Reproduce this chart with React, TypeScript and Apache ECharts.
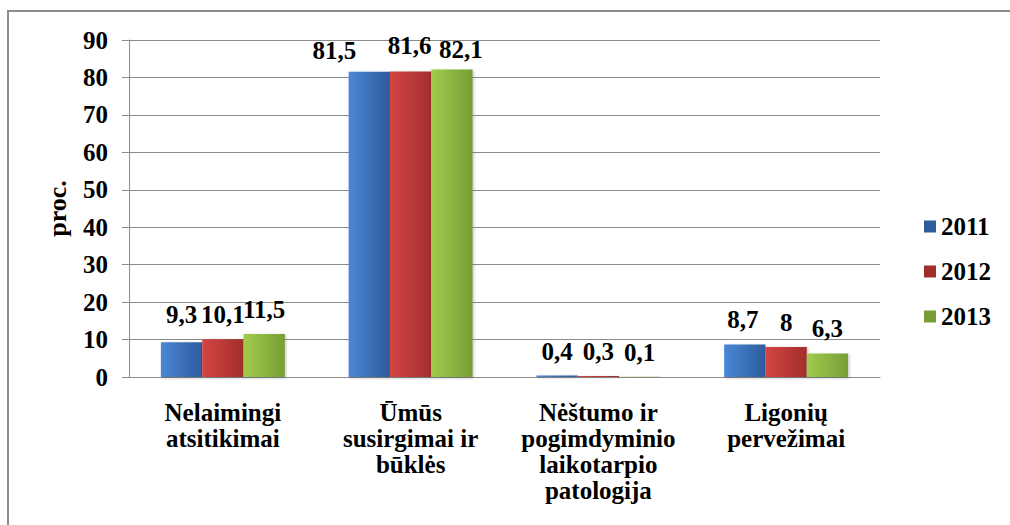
import React, { useEffect, useRef } from "react";
import * as echarts from "echarts";

const categories = [
  "Nelaimingi\natsitikimai",
  "Ūmūs\nsusirgimai ir\nbūklės",
  "Nėštumo ir\npogimdyminio\nlaikotarpio\npatologija",
  "Ligonių\npervežimai",
];
const years = ["2011", "2012", "2013"];
const values2011 = [9.3, 81.5, 0.4, 8.7];
const values2012 = [10.1, 81.6, 0.3, 8];
const values2013 = [11.5, 82.1, 0.1, 6.3];
const yTicks = [0, 10, 20, 30, 40, 50, 60, 70, 80, 90];

// manual label nudges (as in the original chart), per series per category: [dx, dy]
const labelNudges = [
  [[0, -3], [-35, 3], [0, 0], [-2, 0]],
  [[0, 0], [-1, -1], [0, 0], [0, 0]],
  [[0, 0], [9, 4], [0, 0], [0, 0]],
];

const FONT = "Liberation Serif";

const grad = (a: string, b: string) =>
  new echarts.graphic.LinearGradient(0, 0, 1, 0, [
    { offset: 0, color: a },
    { offset: 1, color: b },
  ]);

const fmt = (v: number) => String(v).replace(".", ",");

export default function App() {
  const ref = useRef<HTMLDivElement>(null);
  useEffect(() => {
    if (!ref.current) return;
    const chart = echarts.init(ref.current, null, { renderer: "svg" });
    const colors = [
      ["#4a87d6", "#2d5c9c"],
      ["#d44543", "#a22e2c"],
      ["#a0cc4c", "#779e35"],
    ];
    const seriesData = [values2011, values2012, values2013];
    chart.setOption({
      animation: false,
      textStyle: { fontFamily: FONT },
      graphic: [
        {
          type: "rect",
          shape: { x: 8, y: 11, width: 1010, height: 530 },
          style: { fill: "none", stroke: "#8c8c8c", lineWidth: 2 },
          silent: true,
        },
      ],
      legend: {
        orient: "vertical",
        left: 919,
        top: 209,
        itemWidth: 12,
        itemHeight: 12,
        itemGap: 20,
        icon: "rect",
        data: years.map((y, i) => ({ name: y, itemStyle: { color: colors[i][1] } })),
        textStyle: { fontFamily: FONT, fontSize: 25, fontWeight: "bold", color: "#000" },
      },
      grid: { left: 129, right: 130, top: 40, bottom: 148 },
      xAxis: {
        type: "category",
        data: categories,
        axisLine: { lineStyle: { color: "#8c8c8c", width: 1 } },
        axisTick: { show: false },
        axisLabel: {
          interval: 0,
          margin: 22,
          fontFamily: FONT,
          fontSize: 25,
          fontWeight: "bold",
          color: "#000",
          lineHeight: 26,
          align: "center",
        },
      },
      yAxis: {
        type: "value",
        min: yTicks[0],
        max: yTicks[yTicks.length - 1],
        interval: 10,
        name: "proc.",
        nameLocation: "middle",
        nameRotate: 90,
        nameGap: 59,
        nameTextStyle: { fontFamily: FONT, fontSize: 26, fontWeight: "bold", color: "#000" },
        axisLine: { show: true, lineStyle: { color: "#8c8c8c" } },
        axisTick: { show: true, length: 7, lineStyle: { color: "#8c8c8c" } },
        splitLine: { lineStyle: { color: "#8c8c8c" } },
        axisLabel: {
          margin: 21,
          fontFamily: FONT,
          fontSize: 25,
          fontWeight: "bold",
          color: "#000",
        },
      },
      series: years.map((y, i) => ({
        name: y,
        type: "bar",
        data: seriesData[i].map((v, j) => ({
          value: v,
          label: { offset: labelNudges[i][j] },
        })),
        barGap: "0%",
        barCategoryGap: "34%",
        itemStyle: {
          color: grad(colors[i][0], colors[i][1]),
          shadowColor: "rgba(0,0,0,0.25)",
          shadowBlur: 3,
          shadowOffsetX: 1,
          shadowOffsetY: 1,
        },
        label: {
          show: true,
          position: "top",
          distance: 12,
          formatter: (p: any) => fmt(p.value),
          fontFamily: FONT,
          fontSize: 25,
          fontWeight: "bold",
          color: "#000",
        },
      })),
    });
    return () => chart.dispose();
  }, []);
  return (
    <div
      ref={ref}
      style={{ position: "absolute", left: 0, top: 0, width: 1010, height: 525, background: "#fff" }}
    />
  );
}
